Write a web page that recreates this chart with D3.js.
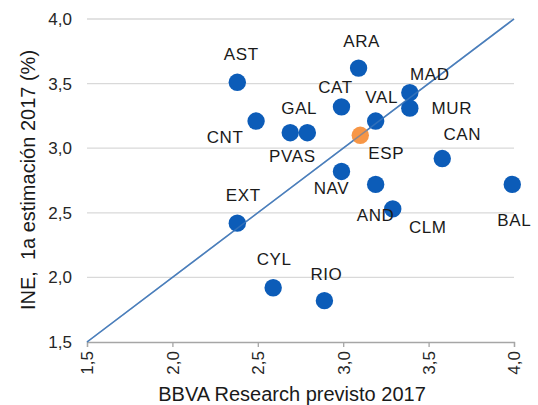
<!DOCTYPE html>
<html>
<head>
<meta charset="utf-8">
<script src="https://cdn.jsdelivr.net/npm/d3@7"></script>
<style>
  body { margin: 0; background: #fff; }
  svg { font-family: "Liberation Sans", Arial, sans-serif; }
</style>
</head>
<body>
<svg id="chart" width="538" height="405"></svg>
<script>
// regions, BBVA forecast (x) vs INE first estimate (y)
const regions = ["AST", "CNT", "ARA", "CAT", "MAD", "MUR", "VAL", "GAL", "PVAS", "ESP", "CAN", "NAV", "AND", "BAL", "CLM", "EXT", "CYL", "RIO"];
const bbva    = [2.38, 2.49, 3.09, 2.99, 3.39, 3.39, 3.19, 2.69, 2.79, 3.10, 3.58, 2.99, 3.19, 3.99, 3.29, 2.38, 2.59, 2.89];
const ine     = [3.51, 3.21, 3.62, 3.32, 3.43, 3.31, 3.21, 3.12, 3.12, 3.10, 2.92, 2.82, 2.72, 2.72, 2.53, 2.42, 1.92, 1.82];
const highlight = "ESP";
const ticks = [1.5, 2.0, 2.5, 3.0, 3.5, 4.0];

// label offsets from the dot, in px (dx, baseline dy)
const labelOffset = {
  AST: [4, -22], CNT: [-31, 22], ARA: [3, -21], CAT: [-6, -14], MAD: [20, -13],
  MUR: [42, 6], VAL: [6, -18], GAL: [9, -19], PVAS: [-15, 29], ESP: [26, 24],
  CAN: [20, -19], NAV: [-10, 23], AND: [0, 37], BAL: [2, 42], CLM: [35, 24],
  EXT: [6, -22], CYL: [1, -23], RIO: [2, -21]
};

const svg = d3.select("#chart");
const x = d3.scaleLinear().domain([1.5, 4]).range([87, 514]);
const y = d3.scaleLinear().domain([1.5, 4]).range([342, 19]);
const fmt = d => d3.format(".1f")(d).replace(".", ",");

// gridlines
svg.append("g")
  .selectAll("line")
  .data(ticks.slice(1))
  .join("line")
    .attr("x1", x(1.5)).attr("x2", x(4))
    .attr("y1", d => y(d)).attr("y2", d => y(d))
    .attr("stroke", "#d9d9d9").attr("stroke-width", 1.3);

// x axis
const xAxis = svg.append("g")
  .attr("transform", `translate(0,${y(1.5)})`)
  .call(d3.axisBottom(x).tickValues(ticks).tickFormat(fmt).tickSizeOuter(0).tickSize(5));
xAxis.select(".domain").attr("stroke", "#a6a6a6").attr("stroke-width", 1.3);
xAxis.selectAll(".tick line").attr("stroke", "#a6a6a6").attr("stroke-width", 1.3);
xAxis.selectAll(".tick text")
  .attr("transform", "rotate(-90)")
  .attr("text-anchor", "end")
  .attr("x", -9).attr("y", 0).attr("dy", "0.35em")
  .attr("font-size", 17).attr("fill", "#262626")
  .attr("font-family", "Liberation Sans, Arial, sans-serif");

// y axis
const yAxis = svg.append("g")
  .attr("transform", `translate(${x(1.5)},0)`)
  .call(d3.axisLeft(y).tickValues(ticks).tickFormat(fmt).tickSize(0));
yAxis.select(".domain").remove();
yAxis.selectAll(".tick text")
  .attr("x", -15)
  .attr("font-size", 17).attr("fill", "#262626")
  .attr("font-family", "Liberation Sans, Arial, sans-serif");

// diagonal 45 degree line
svg.append("line")
  .attr("x1", x(1.5)).attr("y1", y(1.5))
  .attr("x2", x(4)).attr("y2", y(4))
  .attr("stroke", "#4a7ebb").attr("stroke-width", 1.5);

const pts = regions.map((r, i) => ({ r, x: bbva[i], y: ine[i] }));

svg.append("g")
  .selectAll("circle")
  .data(pts)
  .join("circle")
    .attr("cx", d => x(d.x))
    .attr("cy", d => y(d.y))
    .attr("r", 8.7)
    .attr("fill", d => d.r === highlight ? "#f79646" : "#0c5cb8");

// line shows faintly through the dots like in the original
svg.append("line")
  .attr("x1", x(1.5)).attr("y1", y(1.5))
  .attr("x2", x(4)).attr("y2", y(4))
  .attr("stroke", "#4a7ebb").attr("stroke-width", 1.5).attr("opacity", 0.6);

svg.append("g")
  .selectAll("text")
  .data(pts)
  .join("text")
    .attr("x", d => x(d.x) + labelOffset[d.r][0])
    .attr("y", d => y(d.y) + labelOffset[d.r][1])
    .attr("text-anchor", "middle")
    .attr("font-size", 17)
    .attr("letter-spacing", 0.6)
    .attr("fill", "#1a1a1a")
    .text(d => d.r);

// axis titles
svg.append("text")
  .attr("x", 292).attr("y", 401)
  .attr("text-anchor", "middle")
  .attr("font-size", 20)
  .attr("fill", "#1a1a1a")
  .text("BBVA Research previsto 2017");

svg.append("text")
  .attr("transform", "translate(35,180) rotate(-90)")
  .attr("text-anchor", "middle")
  .attr("font-size", 20)
  .attr("fill", "#1a1a1a")
  .attr("xml:space", "preserve")
  .style("white-space", "pre")
  .text("INE,  1a estimación 2017 (%)");
</script>
</body>
</html>
